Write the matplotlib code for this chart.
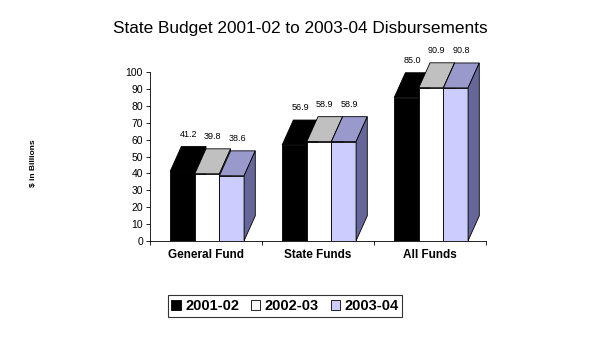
import matplotlib
matplotlib.use("Agg")
import matplotlib.pyplot as plt
from matplotlib.patches import Polygon, Patch

categories = ["General Fund", "State Funds", "All Funds"]
series_names = ["2001-02", "2002-03", "2003-04"]
values = {
    "2001-02": [41.2, 56.9, 85.0],
    "2002-03": [39.8, 58.9, 90.9],
    "2003-04": [38.6, 58.9, 90.8],
}
labels = {
    "2001-02": ["41.2", "56.9", "85.0"],
    "2002-03": ["39.8", "58.9", "90.9"],
    "2003-04": ["38.6", "58.9", "90.8"],
}
front_c = {"2001-02": "#000000", "2002-03": "#ffffff", "2003-04": "#ccccff"}
top_c = {"2001-02": "#000000", "2002-03": "#c0c0c0", "2003-04": "#9999cc"}
side_c = {"2001-02": "#000000", "2002-03": "#808080", "2003-04": "#666699"}

plt.rcParams['font.family'] = ['Liberation Sans', 'DejaVu Sans']
fig = plt.figure(figsize=(6, 3.62), dpi=100)
ax = fig.add_axes([0.25, 0.335, 0.56, 0.465])

w = 0.22
start = 0.18
ddx = 0.10
ddy = 14.8

for i in range(len(categories)):
    for j, s in enumerate(series_names):
        v = values[s][i]
        x0 = i + start + j * w
        x1 = x0 + w
        ax.add_patch(Polygon([(x0, 0), (x1, 0), (x1, v), (x0, v)], closed=True,
                             fc=front_c[s], ec="black", lw=0.6, zorder=3 + j))
        ax.add_patch(Polygon([(x0, v), (x1, v), (x1 + ddx, v + ddy), (x0 + ddx, v + ddy)],
                             closed=True, fc=top_c[s], ec="black", lw=0.6, zorder=3 + j, clip_on=False))
        ax.add_patch(Polygon([(x1, 0), (x1 + ddx, ddy), (x1 + ddx, v + ddy), (x1, v)],
                             closed=True, fc=side_c[s], ec="black", lw=0.6, zorder=3 + j, clip_on=False))
        ax.text(x0 + w / 2 + ddx / 2, v + ddy + 4.5, labels[s][i], ha="center", va="bottom",
                fontsize=6.5, clip_on=False, zorder=10)

ax.set_xlim(0, 3)
ax.set_ylim(0, 100)
ax.set_yticks(range(0, 101, 10))
ax.tick_params(axis='y', labelsize=7.5, length=3, width=0.6, pad=2)
ax.set_xticks([0, 1, 2, 3])
ax.set_xticklabels([])
ax.set_xticks([0.5, 1.5, 2.5], minor=True)
ax.set_xticklabels(categories, minor=True, fontsize=8.5, fontweight='bold')
ax.tick_params(axis='x', which='major', length=3, width=0.6)
ax.tick_params(axis='x', which='minor', length=0, pad=6)
for sp in ["top", "right"]:
    ax.spines[sp].set_visible(False)
for sp in ["left", "bottom"]:
    ax.spines[sp].set_linewidth(0.6)
ax.patch.set_alpha(0)

fig.text(0.5, 0.922, "State Budget 2001-02 to 2003-04 Disbursements", ha="center", va="center",
         fontsize=12.4)
fig.text(0.055, 0.55, "$ in Billions", rotation=90, ha="center", va="center",
         fontsize=6, fontweight='bold')

handles = [Patch(fc=front_c[s], ec="black", lw=0.6) for s in series_names]
leg = fig.legend(handles, series_names, loc="center", bbox_to_anchor=(0.475, 0.155),
                 ncol=3, frameon=True, fancybox=False, edgecolor="black",
                 prop={'size': 10.5, 'weight': 'bold'}, handlelength=0.65, handleheight=0.65,
                 handletextpad=0.3, columnspacing=0.8, borderpad=0.25, borderaxespad=0)
leg.get_frame().set_linewidth(0.8)

fig.savefig("out.png", dpi=100)
